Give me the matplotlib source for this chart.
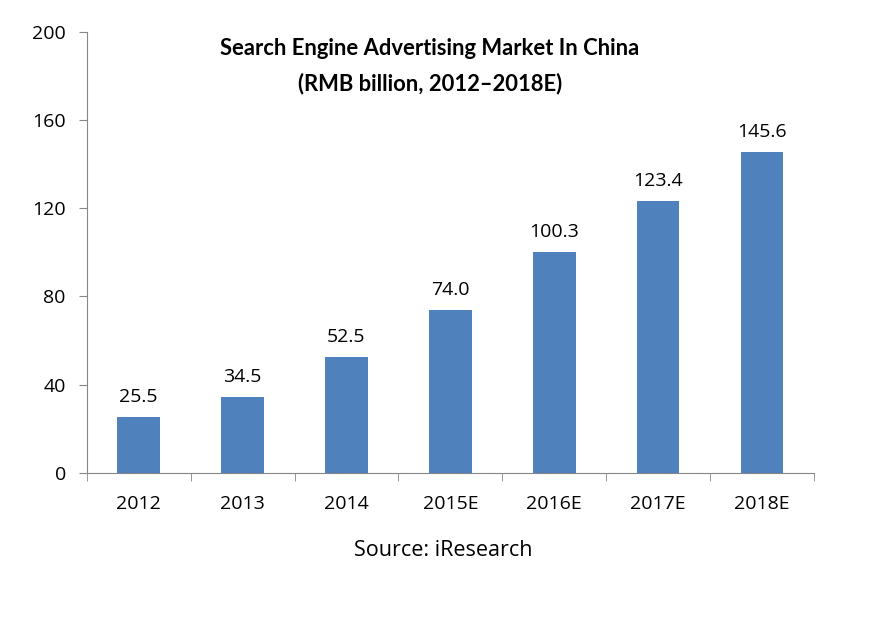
import matplotlib
matplotlib.use('Agg')
import matplotlib.pyplot as plt

years = ['2012', '2013', '2014', '2015E', '2016E', '2017E', '2018E']
values = [25.5, 34.5, 52.5, 74.0, 100.3, 123.4, 145.6]
yticks = [0, 40, 80, 120, 160, 200]

plt.rcParams['font.family'] = ['Open Sans', 'DejaVu Sans']

fig = plt.figure(figsize=(8.92, 6.19), dpi=100)
ax = fig.add_axes([0.0972, 0.2359, 0.8154, 0.7129])

x = list(range(len(years)))
bars = ax.bar(x, values, width=0.41, color='#4F81BD', zorder=2)
for xi, v in zip(x, values):
    ax.annotate(f'{v:.1f}', (xi, v), xytext=(0, 8), textcoords='offset points',
                ha='center', va='bottom', fontsize=14)

ax.set_xlim(-0.5, len(years) - 0.5)
ax.set_ylim(0, 200)
ax.set_yticks(yticks)
ax.set_xticks(x)
ax.set_xticklabels(years)
ax.set_xticks([i - 0.5 for i in range(len(years) + 1)], minor=True)
ax.tick_params(axis='x', which='major', length=0, pad=16, labelsize=14)
ax.tick_params(axis='x', which='minor', length=6, color='#868686')
ax.tick_params(axis='y', length=6, color='#868686', labelsize=14, pad=9)

for s in ['top', 'right']:
    ax.spines[s].set_visible(False)
for s in ['left', 'bottom']:
    ax.spines[s].set_color('#868686')

fig.text(0.482, 0.893, 'Search Engine Advertising Market In China\n(RMB billion, 2012\u20132018E)',
         ha='center', va='center', fontsize=15.8, fontweight='bold', linespacing=1.75,
         family=['Lato', 'DejaVu Sans'])
fig.text(0.497, 0.111, 'Source: iResearch', ha='center', va='center', fontsize=15.5)

fig.savefig('out.png', dpi=100)
